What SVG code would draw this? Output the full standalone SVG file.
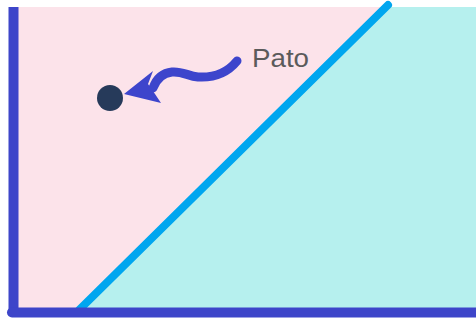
<svg xmlns="http://www.w3.org/2000/svg" width="476" height="320" viewBox="0 0 476 320">
<style>
.axis{stroke:#3d45c9;stroke-width:10;fill:none}
.arrow{stroke:#3d45cc;stroke-width:9;stroke-linecap:round;fill:none}
</style>
<rect x="0" y="0" width="476" height="320" fill="#ffffff"/>
<g id="regions">
<rect x="13" y="7" width="463" height="306" fill="#b6f0ee"/>
<polygon points="13,7 386,7 78,312 13,312" fill="#fce3ea"/>
</g>
<g id="boundary">
<line x1="79" y1="310" x2="388" y2="5" stroke="#00a6ef" stroke-width="8" stroke-linecap="round"/>
</g>
<g id="axes">
<line class="axis" x1="13.5" y1="7" x2="13.5" y2="312"/>
<line class="axis" x1="12" y1="312.5" x2="476" y2="312.5" stroke-linecap="round"/>
</g>
<g id="pato">
<circle cx="110" cy="98" r="13" fill="#263a5a"/>
<text x="252" y="67" font-family="'Liberation Sans',sans-serif" font-size="25" fill="#5b5b5b" textLength="57" lengthAdjust="spacingAndGlyphs">Pato</text>
</g>
<g id="connectors">
<path class="arrow" d="M237,61 C228,72 215,78 198,77 C188,76 182,71 172,72 C162,73 156,80 153,88"/>
<path d="M124,94 L153,71 L148,84 L155,94 L161,103 Z" fill="#3d45cc"/>
</g>
</svg>
